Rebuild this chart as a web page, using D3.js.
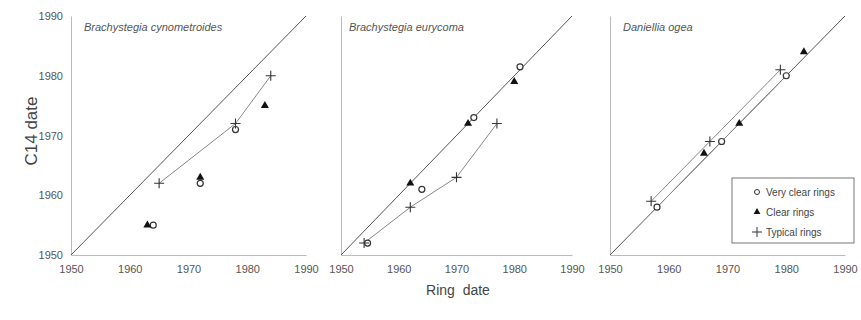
<!DOCTYPE html>
<html>
<head>
    <title>Ring date vs C14 date</title>
    <meta charset="utf-8">
    <script src="https://cdn.jsdelivr.net/npm/d3@7/dist/d3.min.js"></script>
    <style>
        body { margin: 0; background: #fff; }
        svg { font-family: Arial, "Liberation Sans", sans-serif; }
        .axis path { stroke: #bbb; }
        .axis text { fill: #555; font-size: 11px; }
        .title { font-style: italic; font-size: 11px; fill: #555; }
        .label { font-size: 14px; fill: #444; }
        .legend text { font-size: 10px; fill: #444; }
    </style>
</head>
<body>
<svg id="chart" width="861" height="320"></svg>
<script>
// data
var species = ["Brachystegia cynometroides", "Brachystegia eurycoma", "Daniellia ogea"];
var tickYears = [1950, 1960, 1970, 1980, 1990];
var legendNames = ["Very clear rings", "Clear rings", "Typical rings"];

// [ring date, C14 date]
var cynoVery    = [[1964, 1955], [1972, 1962], [1978, 1971]];
var cynoClear   = [[1963, 1955], [1972, 1963], [1983, 1975]];
var cynoTypical = [[1965, 1962], [1978, 1972], [1984, 1980]];

var euryVery    = [[1954.6, 1952], [1964, 1961], [1973, 1973], [1981, 1981.5]];
var euryClear   = [[1962, 1962], [1972, 1972], [1980, 1979]];
var euryTypical = [[1954, 1952], [1962, 1958], [1970, 1963], [1977, 1972]];

var daniVery    = [[1958, 1958], [1969, 1969], [1980, 1980]];
var daniClear   = [[1966, 1967], [1972, 1972], [1983, 1984]];
var daniTypical = [[1957, 1959], [1967, 1969], [1979, 1981]];

var panels = [
    { name: species[0], very: cynoVery, clear: cynoClear, typical: cynoTypical, lines: ["typical"], x0: 71,  x1: 306, tx: 84 },
    { name: species[1], very: euryVery, clear: euryClear, typical: euryTypical, lines: ["typical"], x0: 341, x1: 572, tx: 349 },
    { name: species[2], very: daniVery, clear: daniClear, typical: daniTypical, lines: ["typical", "very"], x0: 610, x1: 845, tx: 623 }
];

var svg = d3.select("#chart");
var y = d3.scaleLinear().domain([1950, 1990]).range([255, 16]);
var line = d3.line();

panels.forEach(function (p, i) {
    var x = d3.scaleLinear().domain([1950, 1990]).range([p.x0, p.x1]);
    var g = svg.append("g");

    // axes
    var ya = g.append("g").attr("class", "axis")
        .attr("transform", "translate(" + p.x0 + ",0)")
        .call(d3.axisLeft(y).tickValues(tickYears).tickSize(0).tickPadding(8).tickFormat(d3.format("d")));
    if (i > 0) ya.selectAll("text").remove();

    g.append("g").attr("class", "axis")
        .attr("transform", "translate(0,255)")
        .call(d3.axisBottom(x).tickValues(tickYears).tickSize(0).tickPadding(10).tickFormat(d3.format("d")));

    g.selectAll(".axis path").attr("stroke", "#bbb");

    // 1:1 line
    g.append("path")
        .attr("d", line([[x(1950), y(1950)], [x(1990), y(1990)]]))
        .attr("stroke", "#555").attr("stroke-width", 1).attr("fill", "none");

    // connecting lines
    p.lines.forEach(function (k) {
        g.append("path")
            .attr("d", line(p[k].map(function (d) { return [x(d[0]), y(d[1])]; })))
            .attr("stroke", "#888").attr("stroke-width", 1).attr("fill", "none");
    });

    // markers
    g.selectAll(".very").data(p.very).enter().append("circle")
        .attr("cx", function (d) { return x(d[0]); })
        .attr("cy", function (d) { return y(d[1]); })
        .attr("r", 3).attr("fill", "#fff").attr("stroke", "#333").attr("stroke-width", 1.2);

    g.selectAll(".clear").data(p.clear).enter().append("path")
        .attr("transform", function (d) { return "translate(" + x(d[0]) + "," + y(d[1]) + ")"; })
        .attr("d", d3.symbol(d3.symbolTriangle, 28))
        .attr("fill", "#111");

    g.selectAll(".typical").data(p.typical).enter().append("path")
        .attr("transform", function (d) { return "translate(" + x(d[0]) + "," + y(d[1]) + ")"; })
        .attr("d", "M-5,0H5M0,-5V5")
        .attr("stroke", "#333").attr("stroke-width", 1.1);

    g.append("text").attr("class", "title")
        .attr("x", p.tx).attr("y", 31)
        .text(p.name);
});

// axis labels
svg.append("text").attr("class", "label")
    .attr("transform", "translate(37,131) rotate(-90)")
    .attr("text-anchor", "middle")
    .style("font-size", "17px")
    .text("C14 date");

svg.append("text").attr("class", "label")
    .attr("x", 458).attr("y", 295)
    .attr("text-anchor", "middle")
    .attr("xml:space", "preserve")
    .text("Ring  date");

// legend
var lg = svg.append("g").attr("class", "legend");
lg.append("rect").attr("x", 732).attr("y", 178).attr("width", 122).attr("height", 65)
    .attr("fill", "#fff").attr("stroke", "#555").attr("stroke-width", 0.8);

var ly = d3.scalePoint().domain(legendNames).range([192, 232]);
lg.append("circle").attr("cx", 757).attr("cy", ly(legendNames[0])).attr("r", 2.5)
    .attr("fill", "#fff").attr("stroke", "#333");
lg.append("path").attr("transform", "translate(757," + ly(legendNames[1]) + ")")
    .attr("d", d3.symbol(d3.symbolTriangle, 20)).attr("fill", "#111");
lg.append("path").attr("transform", "translate(757," + ly(legendNames[2]) + ")")
    .attr("d", "M-5,0H5M0,-5V5").attr("stroke", "#333");
lg.selectAll("text.item").data(legendNames).enter().append("text")
    .attr("x", 766).attr("y", function (d) { return ly(d) + 3.5; })
    .text(function (d) { return d; });
</script>
</body>
</html>
